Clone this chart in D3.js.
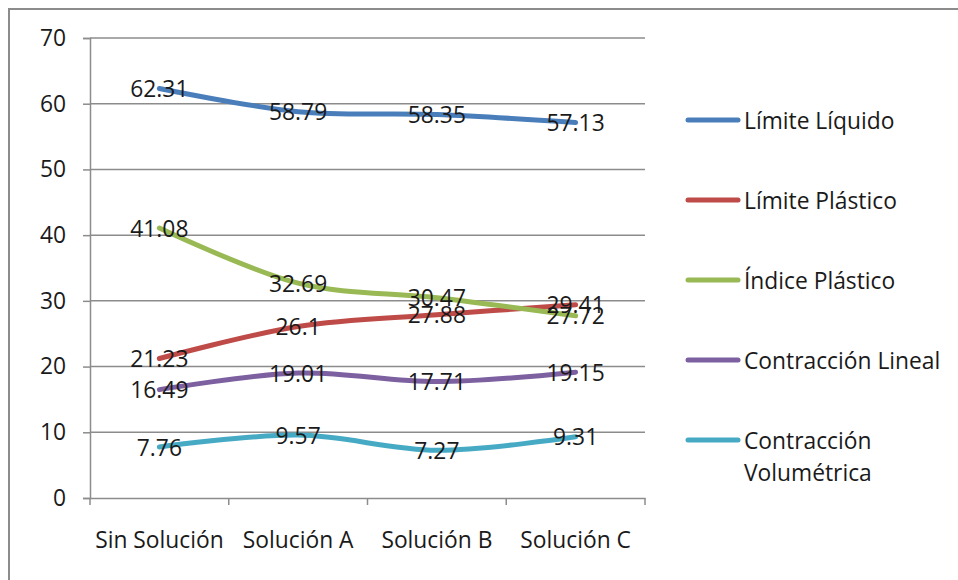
<!DOCTYPE html>
<html>
<head>
<meta charset="utf-8">
<script src="https://cdn.jsdelivr.net/npm/d3@7"></script>
<style>
  html, body { margin: 0; padding: 0; background: #fff; }
  svg { display: block; }
  text { font-family: "Open Sans", "Noto Sans", sans-serif; fill: #1a1a1a; }
</style>
</head>
<body>
<svg id="chart" width="958" height="580"></svg>
<script>
// Soil test results per treatment
const categories = ["Sin Solución", "Solución A", "Solución B", "Solución C"];
const seriesNames = ["Límite Líquido", "Límite Plástico", "Índice Plástico", "Contracción Lineal", "Contracción Volumétrica"];
const limiteLiquido = [62.31, 58.79, 58.35, 57.13];
const limitePlastico = [21.23, 26.1, 27.88, 29.41];
const indicePlastico = [41.08, 32.69, 30.47, 27.72];
const contraccionLineal = [16.49, 19.01, 17.71, 19.15];
const contraccionVolumetrica = [7.76, 9.57, 7.27, 9.31];
const yTicks = [0, 10, 20, 30, 40, 50, 60, 70];

const colors = ["#4a7ebb", "#be4b48", "#98b954", "#7d60a0", "#46aac5"];
const seriesValues = [limiteLiquido, limitePlastico, indicePlastico, contraccionLineal, contraccionVolumetrica];
const series = seriesNames.map((name, i) => ({ name, values: seriesValues[i], color: colors[i] }));

const svg = d3.select("#chart");
const FS = 22.8;
const FONT = "'Open Sans', 'Noto Sans', sans-serif";

// Outer chart frame (runs past the right and bottom edges)
svg.append("rect")
  .attr("x", 9).attr("y", 9).attr("width", 1000).attr("height", 1000)
  .attr("fill", "none").attr("stroke", "#8c8c8c").attr("stroke-width", 2);

const plot = { left: 90, right: 645, top: 38, bottom: 498 };

const x = d3.scaleBand().domain(categories).range([plot.left, plot.right]).padding(0);
const y = d3.scaleLinear().domain([0, 70]).range([plot.bottom, plot.top]);

// Horizontal gridlines
svg.append("g").selectAll("line").data(yTicks.filter(d => d > 0)).join("line")
  .attr("x1", plot.left).attr("x2", plot.right)
  .attr("y1", d => y(d)).attr("y2", d => y(d))
  .attr("stroke", "#8c8c8c").attr("stroke-width", 1.5);

// Y axis
const yAxis = svg.append("g").attr("transform", `translate(${plot.left},0)`)
  .call(d3.axisLeft(y).tickValues(yTicks).tickSize(7).tickPadding(17).tickFormat(d3.format("d")));
yAxis.select(".domain").attr("stroke", "#8c8c8c").attr("stroke-width", 1.5);
yAxis.selectAll(".tick line").attr("stroke", "#8c8c8c").attr("stroke-width", 1.5);
yAxis.selectAll(".tick text").style("font-size", FS + "px").attr("fill", "#1a1a1a")
  .style("font-family", FONT);

// X axis
const xAxis = svg.append("g").attr("transform", `translate(0,${plot.bottom})`)
  .call(d3.axisBottom(x).tickSize(0).tickPadding(34));
xAxis.select(".domain").attr("stroke", "#8c8c8c").attr("stroke-width", 1.5);
xAxis.selectAll(".tick text").style("font-size", FS + "px").attr("fill", "#1a1a1a")
  .style("font-family", FONT);
// Tick marks at category boundaries
const bounds = categories.map(c => x(c)).concat([x(categories[categories.length - 1]) + x.bandwidth()]);
svg.append("g").selectAll("line").data(bounds).join("line")
  .attr("x1", d => d).attr("x2", d => d)
  .attr("y1", plot.bottom).attr("y2", plot.bottom + 7)
  .attr("stroke", "#8c8c8c").attr("stroke-width", 1.5);

const cx = c => x(c) + x.bandwidth() / 2;
const line = d3.line()
  .x((d, i) => cx(categories[i]))
  .y(d => y(d))
  .curve(d3.curveCatmullRom.alpha(0));

// Series lines
svg.append("g").selectAll("path").data(series).join("path")
  .attr("d", s => line(s.values))
  .attr("fill", "none")
  .attr("stroke", s => s.color)
  .attr("stroke-width", 5)
  .attr("stroke-linecap", "round")
  .attr("stroke-linejoin", "round");

// Data labels centred on each point
const labels = svg.append("g");
series.forEach(s => {
  labels.selectAll(null).data(s.values).join("text")
    .attr("x", (d, i) => cx(categories[i]))
    .attr("y", d => y(d))
    .attr("text-anchor", "middle")
    .attr("dominant-baseline", "central")
    .style("font-size", FS + "px")
    .text(d => String(d));
});

// Legend
const legend = svg.append("g");
const legendY0 = 120, legendStep = 80;
series.forEach((s, i) => {
  const ly = legendY0 + i * legendStep;
  legend.append("line")
    .attr("x1", 688).attr("x2", 738).attr("y1", ly).attr("y2", ly)
    .attr("stroke", s.color).attr("stroke-width", 5).attr("stroke-linecap", "round");
  const words = s.name === "Contracción Volumétrica" ? ["Contracción", "Volumétrica"] : [s.name];
  words.forEach((w, j) => {
    legend.append("text")
      .attr("x", 744).attr("y", ly + j * 32)
      .attr("dominant-baseline", "central")
      .style("font-size", FS + "px")
      .text(w);
  });
});
</script>
</body>
</html>
